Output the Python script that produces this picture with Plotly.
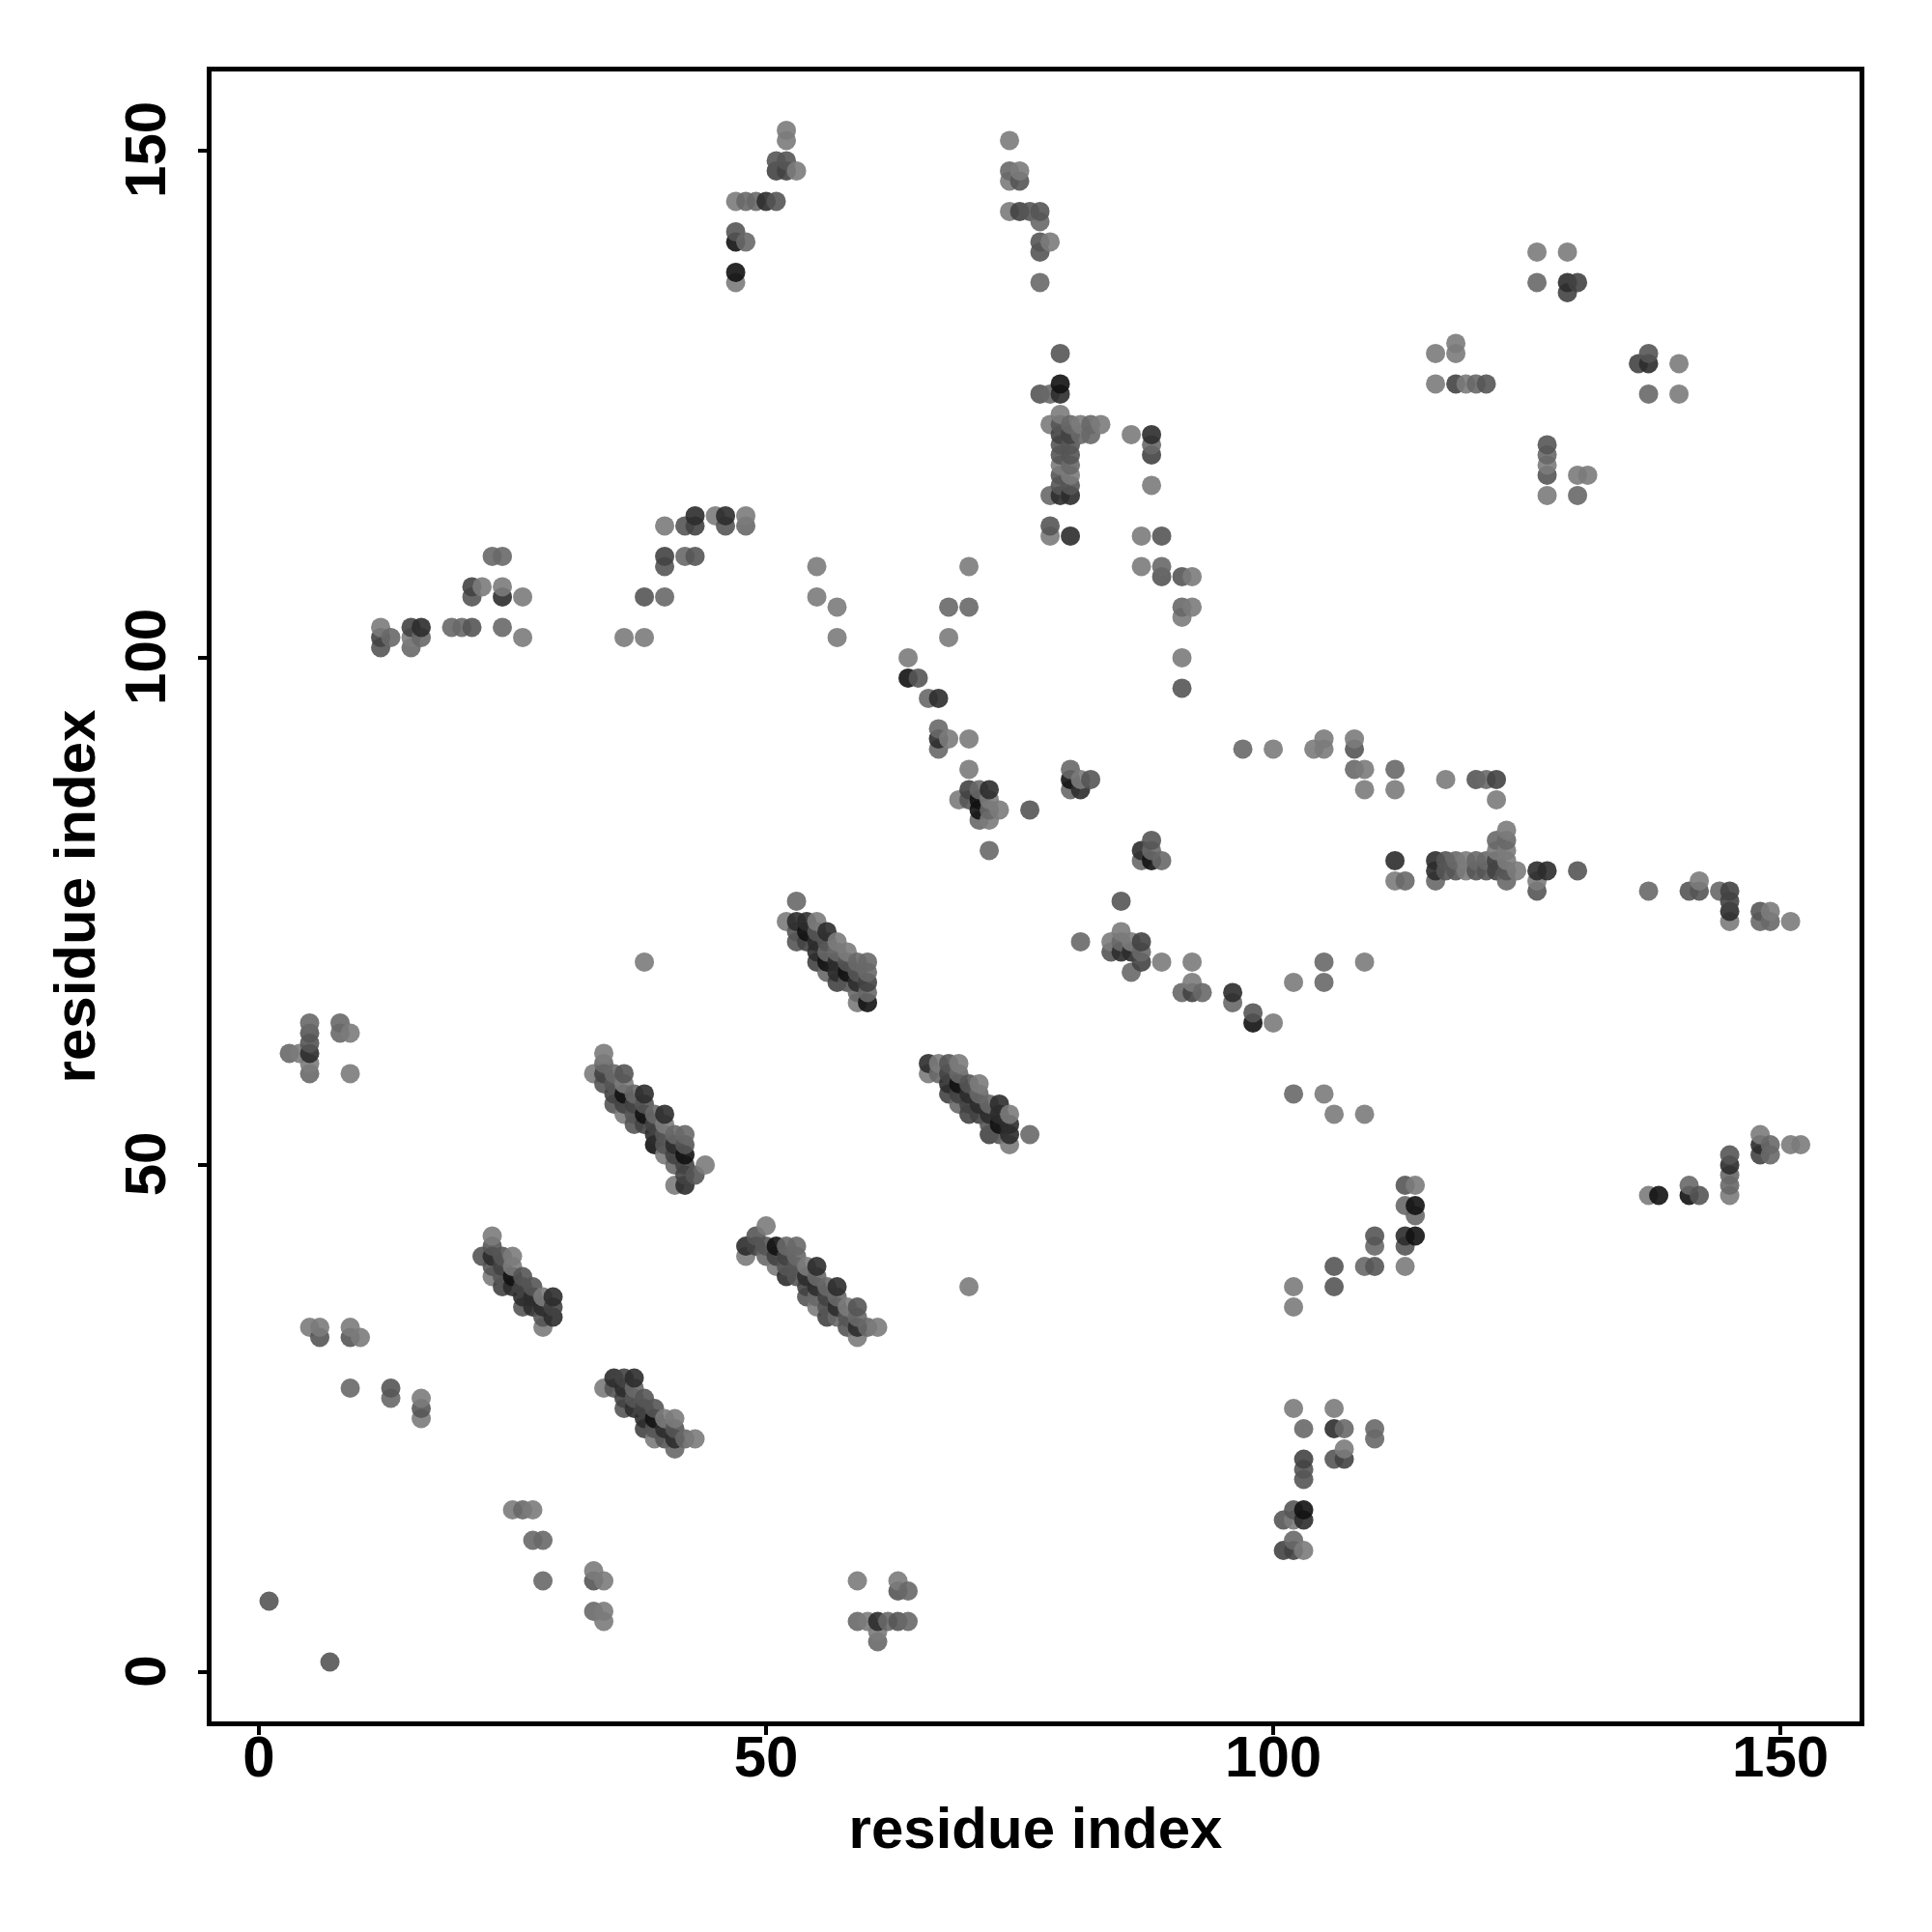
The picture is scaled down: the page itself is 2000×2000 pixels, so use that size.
import plotly.graph_objects as go

# (residue i, residue j, contact weight 1 = weakest .. 6 = strongest)
top_a = [(52,152,1),(52,151,1),(51,149,3),(52,149,3),(51,148,4),(52,148,4),(53,148,1),
 (47,145,1),(48,145,2),(49,145,2),(50,145,5),(51,145,3),(47,142,3),(47,141,6),(48,141,2),(47,138,6),(47,137,1)]
top_b = [(74,151,1),(74,148,2),(75,148,1),(74,147,1),(75,147,3),(74,144,1),(75,144,4),(76,144,3),(77,144,3),
 (77,143,2),(77,141,3),(78,141,1),(77,140,3),(77,137,2)]
strand_top_left = [(12,103,1),(12,102,4),(12,101,3),(13,102,2),(15,103,4),(16,103,5),(15,102,1),(16,102,2),(15,101,2),
 (19,103,2),(20,103,2),(21,103,3),(24,103,2),(26,102,1),(23,110,2),(24,110,2),(21,107,4),(22,107,1),(21,106,3),
 (24,107,1),(24,106,5),(26,106,1),(36,102,1),(38,102,1),(38,106,3),(40,106,2),(40,113,1),(42,113,3),(43,113,4),
 (43,114,5),(45,114,1),(46,114,5),(46,113,3),(48,114,1),(48,113,2),(40,110,4),(40,109,3),(42,110,2),(43,110,3)]
strand_mid = [(55,109,1),(55,106,1),(57,105,1),(57,102,1),(70,109,1),(68,105,2),(70,105,2),(68,102,1),
 (64,100,1),(64,98,6),(65,98,3),(66,96,2),(67,96,5),(67,93,2),(67,92,5),(68,92,1),(67,91,2),(70,92,1),(70,89,1),
 (70,87,4),(71,87,2),(72,87,5),(69,86,1),(70,86,3),(71,86,6),(72,86,1),(71,85,6),(72,85,2),(73,85,1),(71,84,2),(72,84,1),
 (76,85,3),(72,81,2)]
block_79 = [(79,130,3),(79,127,6),(79,126,5),(77,126,3),(78,126,2),(79,124,1),(78,123,1),(79,123,3),(80,123,2),(81,123,1),
 (82,123,2),(83,123,1),(79,122,4),(80,122,4),(81,122,2),(82,122,2),(79,121,3),(80,121,3),(79,120,3),(80,120,3),
 (79,119,1),(80,119,2),(79,118,3),(80,118,1),(79,117,3),(80,117,3),(78,116,2),(79,116,5),(80,116,5),
 (78,113,3),(78,112,1),(80,112,5)]
block_88 = [(86,122,1),(88,122,5),(88,121,2),(88,120,4),(88,117,1),(87,112,1),(89,112,3),(87,109,1),(89,109,2),(89,108,3),
 (91,108,3),(92,108,1),(91,105,2),(92,105,1),(91,104,1),(91,100,1),(91,97,3)]
top_right = [(126,140,1),(129,140,1),(126,137,2),(129,137,5),(130,137,4),(129,136,4),(116,130,1),(118,131,1),(118,130,1),
 (116,127,1),(118,127,4),(119,127,1),(120,127,2),(121,127,3),(136,129,4),(137,129,5),(137,130,3),(140,129,1),(137,126,2),(140,126,1),
 (127,121,3),(127,120,2),(127,119,1),(127,118,3),(130,118,1),(131,118,1),(127,116,1),(130,116,2)]
middle_a = [(80,89,2),(80,88,6),(81,88,1),(82,88,3),(80,87,2),(81,87,5),(97,91,2),(100,91,1),(104,91,1),(105,92,1),(105,91,1),
 (108,92,1),(108,91,3),(108,89,2),(109,89,1),(112,89,2),(109,87,1),(112,87,1),(117,88,1),(120,88,3),(121,88,2),(122,88,4),(122,86,1),
 (88,82,3),(87,81,5),(88,81,2),(87,80,2),(88,80,6),(89,80,2),(85,76,3),(81,72,2),(85,73,1),(84,72,1),(85,72,2),(86,72,1),(87,72,4),
 (84,71,3),(85,71,5),(86,71,5),(87,71,2),(87,70,4),(86,69,2),(89,70,1),(92,70,1),(92,68,1),(91,67,2),(92,67,4),(93,67,2),
 (96,67,5),(96,66,2),(98,65,3),(98,64,6),(100,64,1),(102,68,1),(105,70,2),(105,68,2),(109,70,1),(102,57,2),(105,57,1),(106,55,1),(109,55,1)]
row_80 = [(112,80,5),(112,78,1),(113,78,2),(116,78,2),(116,80,5),(117,80,3),(118,80,2),(119,80,1),(120,80,2),(121,80,2),(122,80,4),
 (116,79,5),(117,79,3),(118,79,3),(119,79,1),(120,79,3),(121,79,3),(122,79,4),(123,79,3),(124,79,1),(123,78,2),
 (123,83,1),(122,82,2),(123,82,2),(122,81,1),(123,81,1),(123,80,1),(126,79,5),(127,79,5),(130,79,3),(126,78,1),(126,77,3),
 (137,77,2),(141,77,3),(142,77,3),(142,78,1),(144,77,2),(145,77,4),(145,76,4),(145,75,5),(145,74,1),(148,75,3),(149,75,1),
 (148,74,2),(149,74,2),(151,74,1)]
lower_right = [(148,53,1),(148,52,5),(149,52,2),(148,51,4),(149,51,2),(151,52,1),(152,52,1),(145,51,3),(145,50,5),(145,49,2),(145,48,2),(145,47,1),
 (137,47,1),(138,47,6),(141,48,2),(141,47,6),(142,47,3),(113,48,3),(114,48,1),(113,46,2),(114,46,6),(114,45,2),(113,43,5),(114,43,6),
 (113,42,3),(113,40,1),(110,43,3),(110,42,2),(106,40,3),(109,40,2),(110,40,3),(106,38,3),(102,38,1),(102,36,1),
 (102,26,1),(106,26,1),(103,24,2),(106,24,5),(107,24,2),(110,24,2),(110,23,2),(107,22,1),(106,21,3),(107,21,4),(103,21,4),(103,20,3),(103,19,3),
 (102,16,3),(103,16,6),(101,15,3),(102,15,1),(103,15,5),(102,13,2),(101,12,4),(102,12,4),(103,12,1)]
lower_left = [(1,7,3),(7,1,3),(5,34,1),(6,34,1),(6,33,3),(9,34,1),(9,33,3),(10,33,1),(9,28,2),(13,28,3),(13,27,2),(16,27,1),(16,26,3),(16,25,1),
 (25,16,1),(26,16,2),(27,16,1),(27,13,2),(28,13,2),(28,9,2),(33,10,1),(33,9,3),(34,9,1),(33,6,2),(34,6,1),(34,5,1),
 (59,9,1),(63,9,1),(63,8,3),(64,8,2),(59,5,2),(60,5,1),(61,5,5),(62,5,2),(63,5,3),(64,5,2),(61,4,1),(61,3,2),(70,38,1),
 (3,61,2),(4,61,1),(5,64,2),(5,63,3),(5,62,3),(5,61,5),(5,60,1),(5,59,2),(8,64,2),(8,63,2),(9,63,1),(9,59,1),(38,70,1)]
helix_a = [(23,43,1),(23,42,3),(22,41,3),(23,41,5),(24,41,3),(25,41,1),(23,40,3),(24,40,4),(25,40,1),(23,39,1),(24,39,3),(25,39,6),(26,39,3),
 (24,38,4),(25,38,5),(26,38,4),(27,38,3),(26,37,5),(27,37,5),(28,37,1),(29,37,5),(26,36,3),(27,36,5),(28,36,5),(29,36,4),(28,35,3),(29,35,5),(28,34,1)]
helix_b = [(35,29,5),(36,29,4),(37,29,5),(34,28,1),(35,28,3),(36,28,5),(37,28,2),(36,27,4),(37,27,3),(38,27,3),(36,26,3),(37,26,5),(38,26,4),(39,26,3),
 (38,25,5),(39,25,6),(40,25,1),(41,25,1),(38,24,4),(39,24,3),(40,24,5),(41,24,3),(39,23,1),(40,23,3),(41,23,5),(42,23,2),(43,23,1),(41,22,2)]
helix_c = [(50,44,1),(49,43,3),(48,42,5),(49,42,4),(50,42,3),(51,42,6),(52,42,2),(53,42,2),(48,41,1),(50,41,2),(51,41,4),(52,41,4),(53,41,2),
 (51,40,1),(52,40,3),(53,40,3),(54,40,1),(55,40,5),(52,39,5),(53,39,3),(54,39,5),(55,39,2),(54,38,4),(55,38,5),(56,38,2),(57,38,5),
 (54,37,3),(55,37,2),(56,37,4),(57,37,2),(55,36,1),(56,36,3),(57,36,5),(58,36,1),(59,36,3),(56,35,4),(57,35,2),(58,35,3),(59,35,2),
 (58,34,3),(59,34,5),(60,34,2),(61,34,1),(59,33,1)]
helix_d = [(34,61,1),(33,59,1),(34,60,2),(34,59,4),(35,59,2),(36,59,3),(34,58,3),(35,58,3),(36,58,1),(35,56,3),(36,57,6),(37,57,2),(38,57,5),(35,57,4),
 (36,56,4),(37,56,4),(38,56,3),(39,55,2),(40,55,5),(36,55,1),(37,55,3),(38,55,6),(37,54,3),(38,54,4),(39,54,4),(40,54,1),
 (39,53,5),(40,53,3),(41,53,2),(42,53,2),(39,52,6),(40,52,3),(41,52,5),(42,52,3),(40,51,1),(41,51,4),(42,51,6),
 (41,50,2),(42,50,4),(43,49,3),(44,50,1),(42,49,4),(41,48,1),(42,48,5)]
helix_e = [(53,76,2),(52,74,1),(53,74,5),(54,74,5),(55,74,1),(53,73,3),(54,73,6),(55,73,3),(56,73,5),(53,72,3),(54,72,4),(55,72,5),(56,72,3),(57,72,1),
 (55,71,5),(56,71,2),(57,71,2),(58,71,1),(55,70,4),(56,70,6),(57,70,5),(58,70,3),(59,70,2),(60,70,2),(56,69,2),(57,69,5),(58,69,6),(59,69,3),(60,69,2),
 (57,68,4),(58,68,3),(59,68,5),(60,68,4),(59,67,2),(60,67,2),(59,66,1),(60,66,6)]
helix_f = [(66,60,5),(67,60,1),(68,60,3),(69,60,1),(66,59,1),(67,59,2),(68,59,4),(69,59,2),(68,58,5),(69,58,6),(70,58,3),(71,58,1),
 (68,57,4),(69,57,4),(70,57,5),(71,57,2),(69,56,2),(70,56,4),(71,56,5),(72,56,2),(73,56,5),(70,55,4),(71,55,4),(72,55,5),(73,55,5),(74,55,1),
 (72,54,3),(73,54,6),(74,54,5),(72,53,4),(73,53,3),(74,53,5),(76,53,2),(74,52,1)]

x_ticks = [0, 50, 100, 150]
y_ticks = [0, 50, 100, 150]
axis_label = "residue index"

contacts = sorted(top_a + top_b + strand_top_left + strand_mid + block_79 + block_88 + top_right + middle_a + row_80
                  + lower_right + lower_left + helix_a + helix_b + helix_c + helix_d + helix_e + helix_f)
res_i = [c[0] for c in contacts]
res_j = [c[1] for c in contacts]
weight = [c[2] for c in contacts]

greys = [(0.0, "rgb(123,123,123)"), (0.2, "rgb(104,104,104)"), (0.4, "rgb(85,85,85)"),
         (0.6, "rgb(66,66,66)"), (0.8, "rgb(44,44,44)"), (1.0, "rgb(18,18,18)")]

fig = go.Figure(go.Scatter(
    x=res_i, y=res_j, mode="markers", showlegend=False,
    marker=dict(size=20, color=weight, colorscale=greys, cmin=1, cmax=6,
                opacity=0.9, line=dict(width=0), showscale=False),
))

FONT = "Liberation Sans"
axis_common = dict(
    showgrid=False, zeroline=False, showline=True, mirror=True,
    linecolor="black", linewidth=4.5, ticks="outside", ticklen=9, tickwidth=4, tickcolor="black",
    tickfont=dict(family=FONT, size=60, color="black", weight="bold"),
)
fig.update_xaxes(range=[-4.67, 157.8], tickvals=x_ticks, ticktext=[str(v) for v in x_ticks],
                 ticklabelstandoff=-29,
                 title=dict(text=axis_label, standoff=22,
                            font=dict(family=FONT, size=60, color="black", weight="bold")),
                 **axis_common)
fig.update_yaxes(range=[-4.86, 157.8], tickvals=y_ticks, ticktext=[str(v) for v in y_ticks], tickangle=-90,
                 ticklabelstandoff=10, ticklabelshift=8,
                 title=dict(text=axis_label, standoff=1,
                            font=dict(family=FONT, size=60, color="black", weight="bold")),
                 **axis_common)
fig.update_layout(width=2000, height=2000, autosize=False,
                  margin=dict(l=219, r=75, t=74, b=218, autoexpand=False),
                  paper_bgcolor="white", plot_bgcolor="white")
fig.write_html("out.html", post_script="document.body.style.margin='0';",
               config=dict(displayModeBar=False))
